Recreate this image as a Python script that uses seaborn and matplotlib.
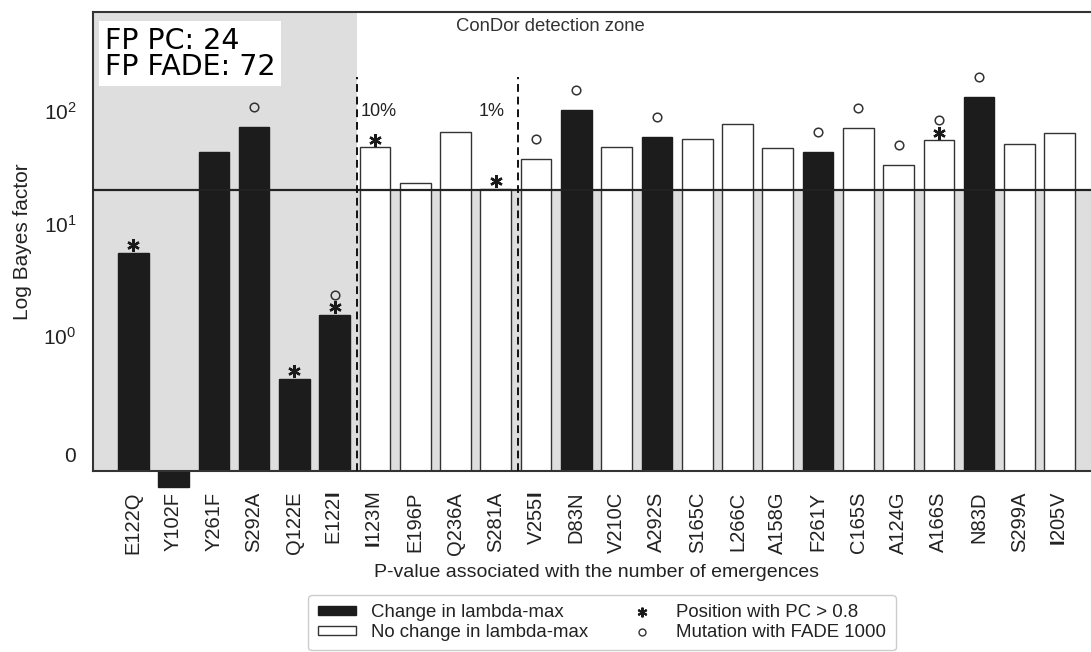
import numpy as np
import pandas as pd
import seaborn as sns
import matplotlib
matplotlib.use("Agg")
import matplotlib.pyplot as plt
import matplotlib.transforms as mtransforms
from matplotlib.patches import Patch
from matplotlib.lines import Line2D

# ---------------- data ----------------
mutations = ["E122Q", "Y102F", "Y261F", "S292A", "Q122E", "E122I", "I123M", "E196P",
             "Q236A", "S281A", "V255I", "D83N", "V210C", "A292S", "S165C", "L266C",
             "A158G", "F261Y", "C165S", "A124G", "A166S", "N83D", "S299A", "I205V"]
tick_labels = ["E122Q", "Y102F", "Y261F", "S292A", "Q122E", "E122$\\mathbf{I}$",
               "$\\mathbf{I}$123M", "E196P", "Q236A", "S281A", "V255$\\mathbf{I}$", "D83N",
               "V210C", "A292S", "S165C", "L266C", "A158G", "F261Y", "C165S", "A124G",
               "A166S", "N83D", "S299A", "$\\mathbf{I}$205V"]
bayes_factor = [5.5, -0.27, 43.4, 72.8, 0.64, 1.55, 47.7, 23.1, 65.8, 20.5, 37.3, 103.0,
                48.1, 58.5, 56.6, 76.9, 47.4, 43.0, 70.3, 33.0, 55.0, 134.5, 51.1, 64.0]
lambda_change = [1, 1, 1, 1, 1, 1, 0, 0, 0, 0, 0, 1, 0, 1, 0, 0, 0, 1, 0, 0, 0, 1, 0, 0]
pc_high = [1, 0, 0, 0, 1, 1, 1, 0, 0, 1, 0, 0, 0, 0, 0, 0, 0, 0, 0, 0, 1, 0, 0, 0]
fade_1000 = [0, 0, 0, 1, 0, 1, 0, 0, 0, 0, 1, 1, 0, 1, 0, 0, 0, 1, 1, 1, 1, 1, 0, 0]
threshold = 20
pvalue_lines = [5.55, 9.56]
pvalue_labels = ["10%", "1%"]
fp_pc = 24
fp_fade = 72

df = pd.DataFrame({"mutation": mutations, "bf": bayes_factor,
                   "change": ["Change" if c else "No change" for c in lambda_change]})

# ---------------- style ----------------
sns.set_style("white")
plt.rcParams["font.family"] = ["Liberation Sans", "DejaVu Sans"]
plt.rcParams["mathtext.fontset"] = "custom"
plt.rcParams["mathtext.rm"] = "Liberation Sans"
plt.rcParams["mathtext.bf"] = "Liberation Sans:bold"
plt.rcParams["mathtext.it"] = "Liberation Sans:italic"

BLACK = "#1c1c1c"
GRAY = "#dedede"
EDGE = "#333333"

W, H = 1091, 652
fig = plt.figure(figsize=(W / 100, H / 100), dpi=100)
ax = fig.add_axes([93 / W, 1 - 471 / H, 1007 / W, 459 / H])

sns.barplot(data=df, x="mutation", y="bf", hue="change",
            palette={"Change": BLACK, "No change": "white"},
            dodge=False, width=0.76, legend=False, ax=ax, zorder=2,
            edgecolor=EDGE, linewidth=1.0)

ax.set_yscale("symlog", linthresh=1, linscale=0.95)
ybot, ytop = -0.135, 763
ax.set_ylim(ybot, ytop)
ax.set_xlim(-1, 24)

# bars rise from the bottom of the axis; negative bar hangs below it
for patch in ax.patches:
    i = int(round(patch.get_x() + patch.get_width() / 2))
    v = bayes_factor[i]
    patch.set_edgecolor(BLACK if lambda_change[i] else EDGE)
    patch.set_y(ybot)
    patch.set_height(v - ybot)
    if v < 0:
        patch.set_clip_on(False)

# background zones
ax.axvspan(-1, pvalue_lines[0], color=GRAY, zorder=0, lw=0)
ax.fill_between([pvalue_lines[0], 24], ybot, threshold, color=GRAY, zorder=0, lw=0)

# threshold line
ax.axhline(threshold, color="#222222", lw=1.6, zorder=3)

# p-value dashed lines
for xv, lab, ha, dx in zip(pvalue_lines, pvalue_labels, ["left", "right"], [0.1, -0.33]):
    ax.plot([xv, xv], [ybot, 200], color="#111111", lw=1.4, ls=(0, (4, 2.5)), zorder=3)
    ax.text(xv + dx, 100, lab, ha=ha, va="center", fontsize=13, color="#222222")

# markers above bars
pos = np.arange(len(mutations))
vals = np.array(bayes_factor)
pc_mask = np.array(pc_high, bool)
fade_mask = np.array(fade_1000, bool)
off_ast = mtransforms.offset_copy(ax.transData, fig=fig, x=0, y=5.5, units="points")
off_circ = mtransforms.offset_copy(ax.transData, fig=fig, x=0, y=14.5, units="points")
ax.plot(pos[pc_mask], vals[pc_mask], ls="none", marker=(6, 2, 0), ms=9, mew=1.7,
        color="#1a1a1a", transform=off_ast, zorder=4)
ax.plot(pos[fade_mask], vals[fade_mask], ls="none", marker="o", ms=6.2, mew=1.1,
        mfc="none", mec="#333333", transform=off_circ, zorder=4)

# texts
ax.text(10.35, 0.968, "ConDor detection zone", transform=ax.get_xaxis_transform(),
        ha="center", va="center", fontsize=13.3, color="#333333")
ax.text(0.0119, 0.967, f"FP PC: {fp_pc}\nFP FADE: {fp_fade}", transform=ax.transAxes,
        ha="left", va="top", fontsize=20.5, family="DejaVu Sans", color="black",
        linespacing=0.88,
        bbox=dict(facecolor="white", edgecolor="none", boxstyle="square,pad=0.2"), zorder=5)

# axes styling
ax.set_yticks([0, 1, 10, 100])
ax.set_yticklabels(["0", "$10^{0}$", "$10^{1}$", "$10^{2}$"])
ax.yaxis.set_minor_locator(matplotlib.ticker.NullLocator())
ax.set_xticks(pos)
ax.set_xticklabels(tick_labels, rotation=90)
ax.tick_params(axis="x", length=0, pad=15, labelsize=14.5, labelcolor="#222222")
ax.tick_params(axis="y", length=0, pad=12, labelsize=15, labelcolor="#222222")
ax.set_xlabel("P-value associated with the number of emergences", fontsize=14,
              color="#222222", labelpad=7)
ax.set_ylabel("Log Bayes factor", fontsize=15, color="#222222", labelpad=8)
for s in ["left", "bottom", "top"]:
    ax.spines[s].set_color("#333333")
    ax.spines[s].set_linewidth(1.5)
ax.spines["right"].set_visible(False)

# legend
handles = [Patch(facecolor=BLACK, edgecolor=BLACK),
           Patch(facecolor="white", edgecolor=EDGE),
           Line2D([], [], ls="none", marker=(6, 2, 0), ms=7, mew=1.5, color="#1a1a1a"),
           Line2D([], [], ls="none", marker="o", ms=5, mew=1.0, mfc="none", mec="#333333")]
labels = ["Change in lambda-max", "No change in lambda-max",
          "Position with PC > 0.8", "Mutation with FADE 1000"]
leg = fig.legend(handles, labels, ncol=2, loc="upper center",
                 bbox_to_anchor=(602 / W, 1 - 595 / H), fontsize=13.4,
                 handlelength=2.05, handleheight=0.35, handletextpad=0.8,
                 columnspacing=1.9, labelspacing=0.15, borderpad=0.5,
                 borderaxespad=0, frameon=True, fancybox=True, framealpha=1)
leg.get_frame().set_edgecolor("#cccccc")
leg.get_frame().set_linewidth(1.0)
for t in leg.get_texts():
    t.set_color("#222222")

fig.savefig("out.png", dpi=100)
